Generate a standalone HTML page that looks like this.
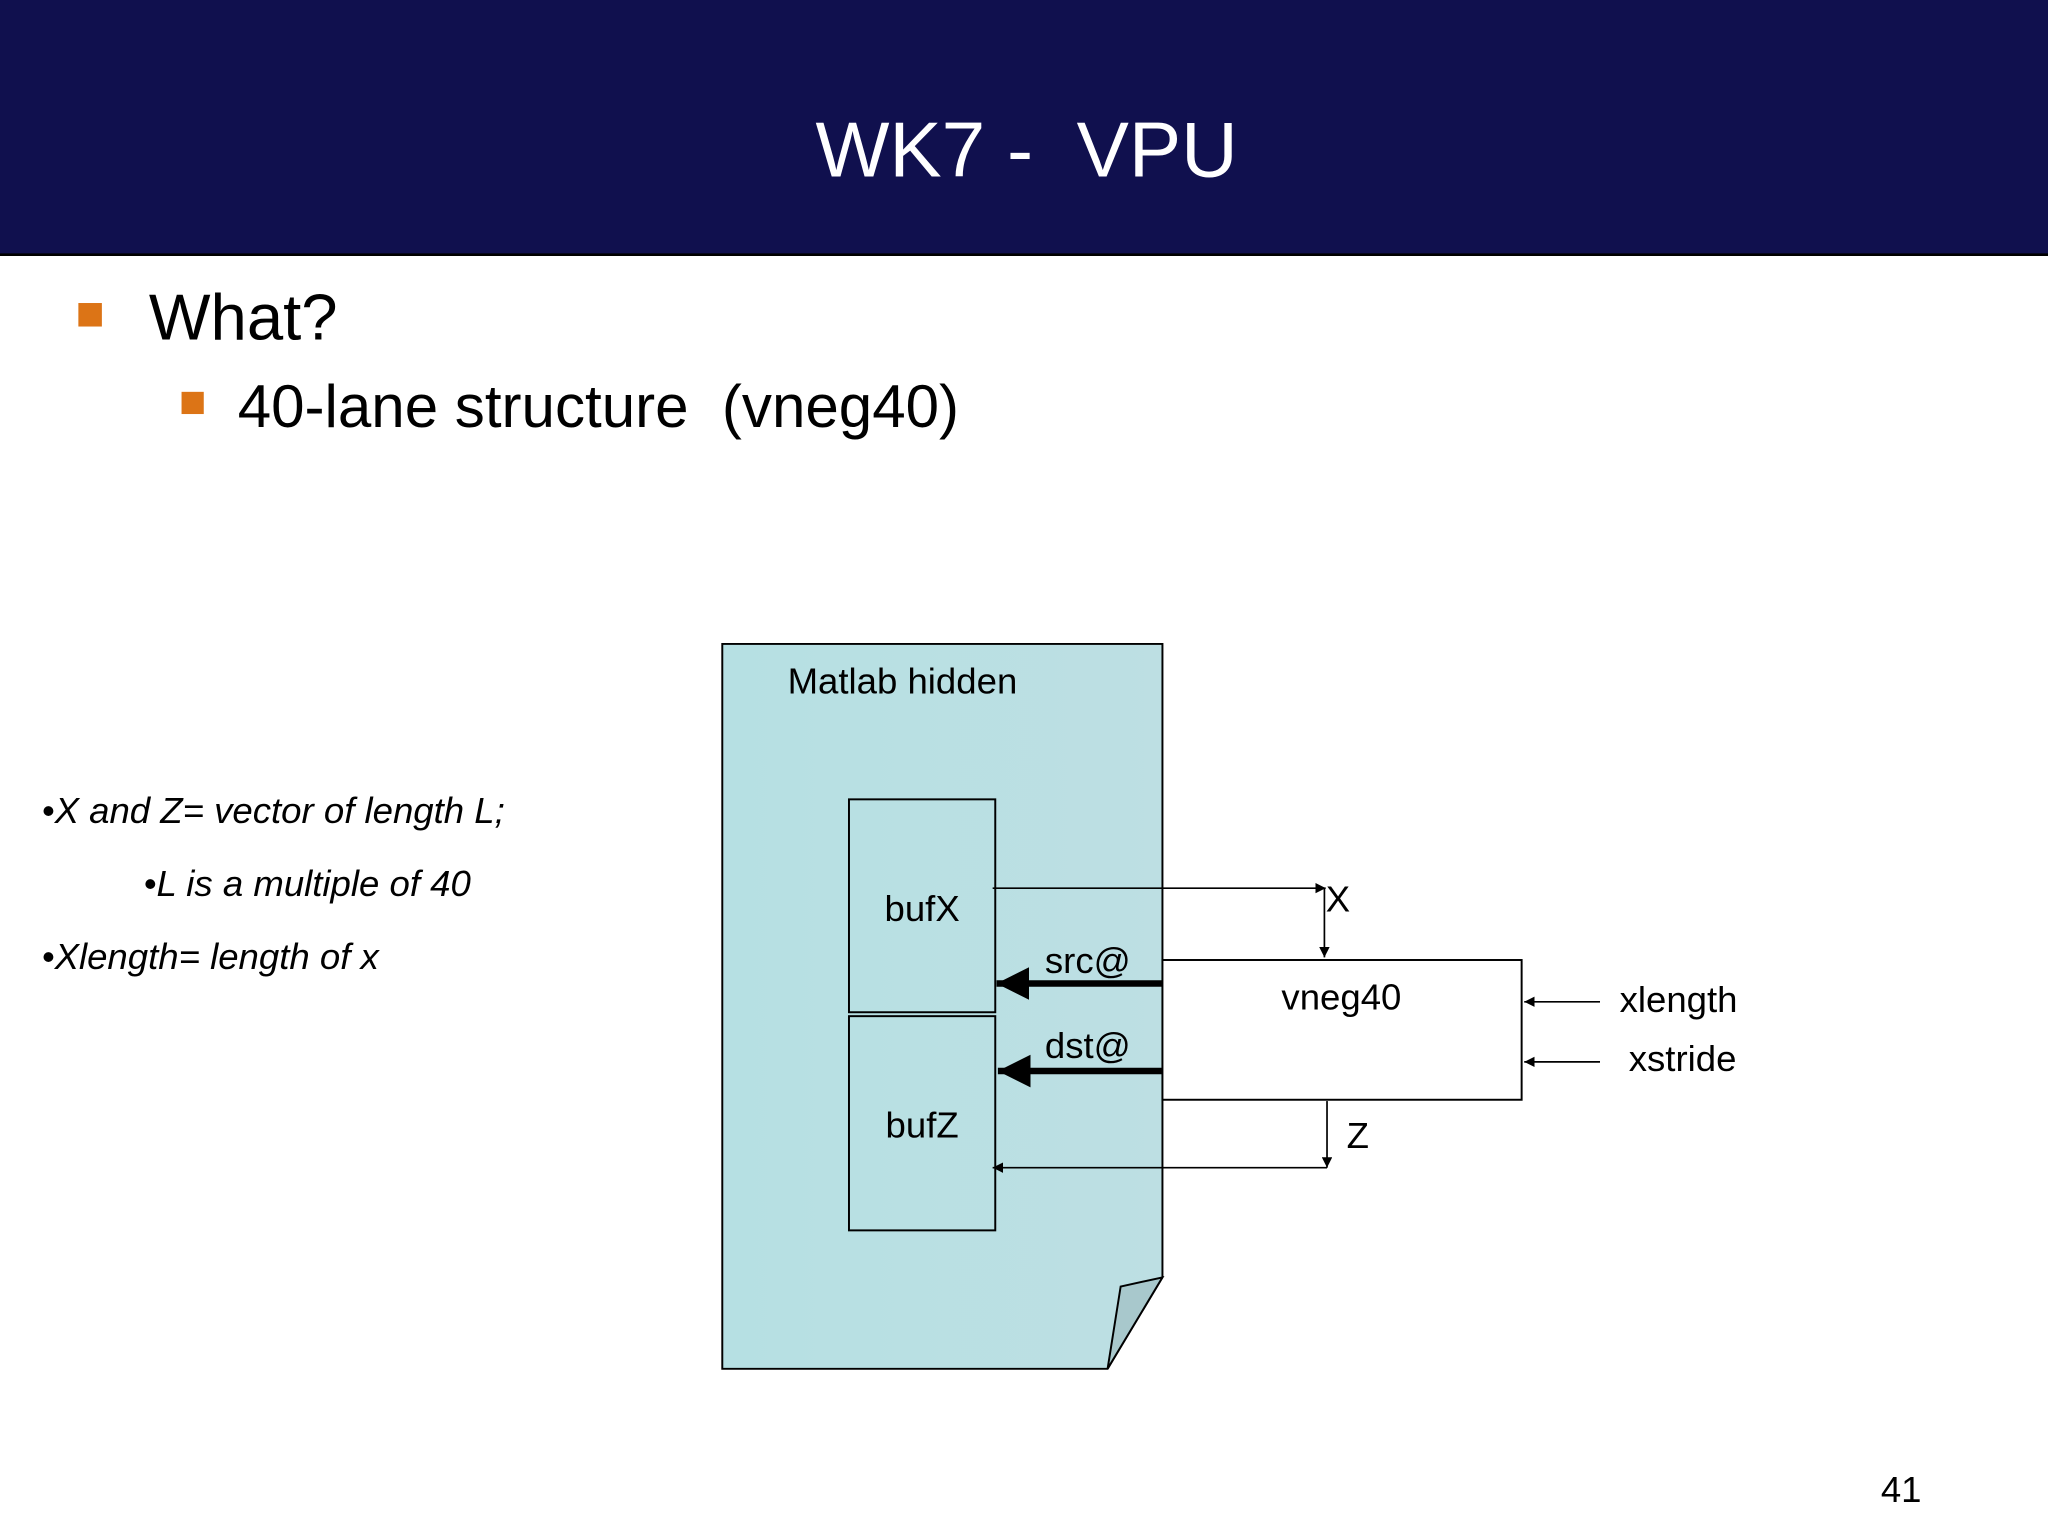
<!DOCTYPE html>
<html><head><meta charset="utf-8"><style>
html,body{margin:0;padding:0;background:#fff;}
svg{display:block;}
text{font-family:"Liberation Sans",sans-serif;}
</style></head><body>
<svg width="2048" height="1536" viewBox="0 0 1568 1176" preserveAspectRatio="none" xmlns="http://www.w3.org/2000/svg">
<defs>
<marker id="a" viewBox="0 0 10 10" refX="10" refY="5" markerWidth="8" markerHeight="8" markerUnits="userSpaceOnUse" orient="auto"><path d="M0,0L10,5L0,10z" fill="#000"/></marker>
<marker id="b" viewBox="0 0 10 10" refX="10" refY="5" markerWidth="5" markerHeight="5" orient="auto"><path d="M0,0L10,5L0,10z" fill="#000"/></marker>
<linearGradient id="g" x1="0" y1="0" x2="1" y2="0"><stop offset="0" stop-color="#b6e0e3"/><stop offset="1" stop-color="#bddfe3"/></linearGradient>
</defs>
<rect x="0" y="0" width="1568" height="195" fill="#10104e"/>
<line x1="0" y1="195" x2="1568" y2="195" stroke="#000" stroke-width="2"/>
<text x="786" y="135" font-size="60" fill="#fff" text-anchor="middle" xml:space="preserve">WK7 -  VPU</text>
<rect x="60" y="232" width="18" height="18" fill="#dc7416"/>
<text x="114" y="260" font-size="50">What?</text>
<rect x="139" y="300" width="17" height="17" fill="#dc7416"/>
<text x="182" y="327" font-size="46" xml:space="preserve">40-lane structure  (vneg40)</text>
<g font-size="28" font-style="italic">
<text x="32" y="630">•X and Z= vector of length L;</text>
<text x="110" y="686">•L is a multiple of 40</text>
<text x="32" y="742">•Xlength= length of x</text>
</g>
<path d="M553,493H890V978L848,1048H553Z" fill="url(#g)" stroke="#000" stroke-width="1.5"/>
<path d="M848,1048L858,985L890,978Z" fill="#a8c8cc" stroke="#000" stroke-width="1.5"/>
<text x="603" y="531" font-size="28">Matlab hidden</text>
<rect x="650" y="612" width="112" height="163" fill="none" stroke="#000" stroke-width="1.5"/>
<rect x="650" y="778" width="112" height="164" fill="none" stroke="#000" stroke-width="1.5"/>
<text x="706" y="705" font-size="28" text-anchor="middle">bufX</text>
<text x="706" y="871" font-size="28" text-anchor="middle">bufZ</text>
<rect x="890" y="735" width="275" height="107" fill="#fff" stroke="#000" stroke-width="1.5"/>
<text x="1027" y="773" font-size="28" text-anchor="middle">vneg40</text>
<g stroke="#000" stroke-width="1.3" fill="none">
<line x1="760" y1="680" x2="1015" y2="680" marker-end="url(#a)"/>
<line x1="1014" y1="680" x2="1014" y2="733" marker-end="url(#a)"/>
<line x1="1016" y1="843" x2="1016" y2="894" marker-end="url(#a)"/>
<line x1="1016" y1="894" x2="760" y2="894" marker-end="url(#a)"/>
<line x1="1225" y1="767" x2="1167" y2="767" marker-end="url(#a)"/>
<line x1="1225" y1="813" x2="1167" y2="813" marker-end="url(#a)"/>
</g>
<line x1="890" y1="753" x2="763" y2="753" stroke="#000" stroke-width="5" marker-end="url(#b)"/>
<line x1="890" y1="820" x2="764" y2="820" stroke="#000" stroke-width="5" marker-end="url(#b)"/>
<text x="800" y="745" font-size="28">src@</text>
<text x="800" y="810" font-size="28">dst@</text>
<text x="1015" y="698" font-size="28">X</text>
<text x="1031" y="879" font-size="28">Z</text>
<text x="1240" y="775" font-size="28">xlength</text>
<text x="1247" y="820" font-size="28">xstride</text>
<text x="1440" y="1150" font-size="28">41</text>
</svg>
</body></html>
